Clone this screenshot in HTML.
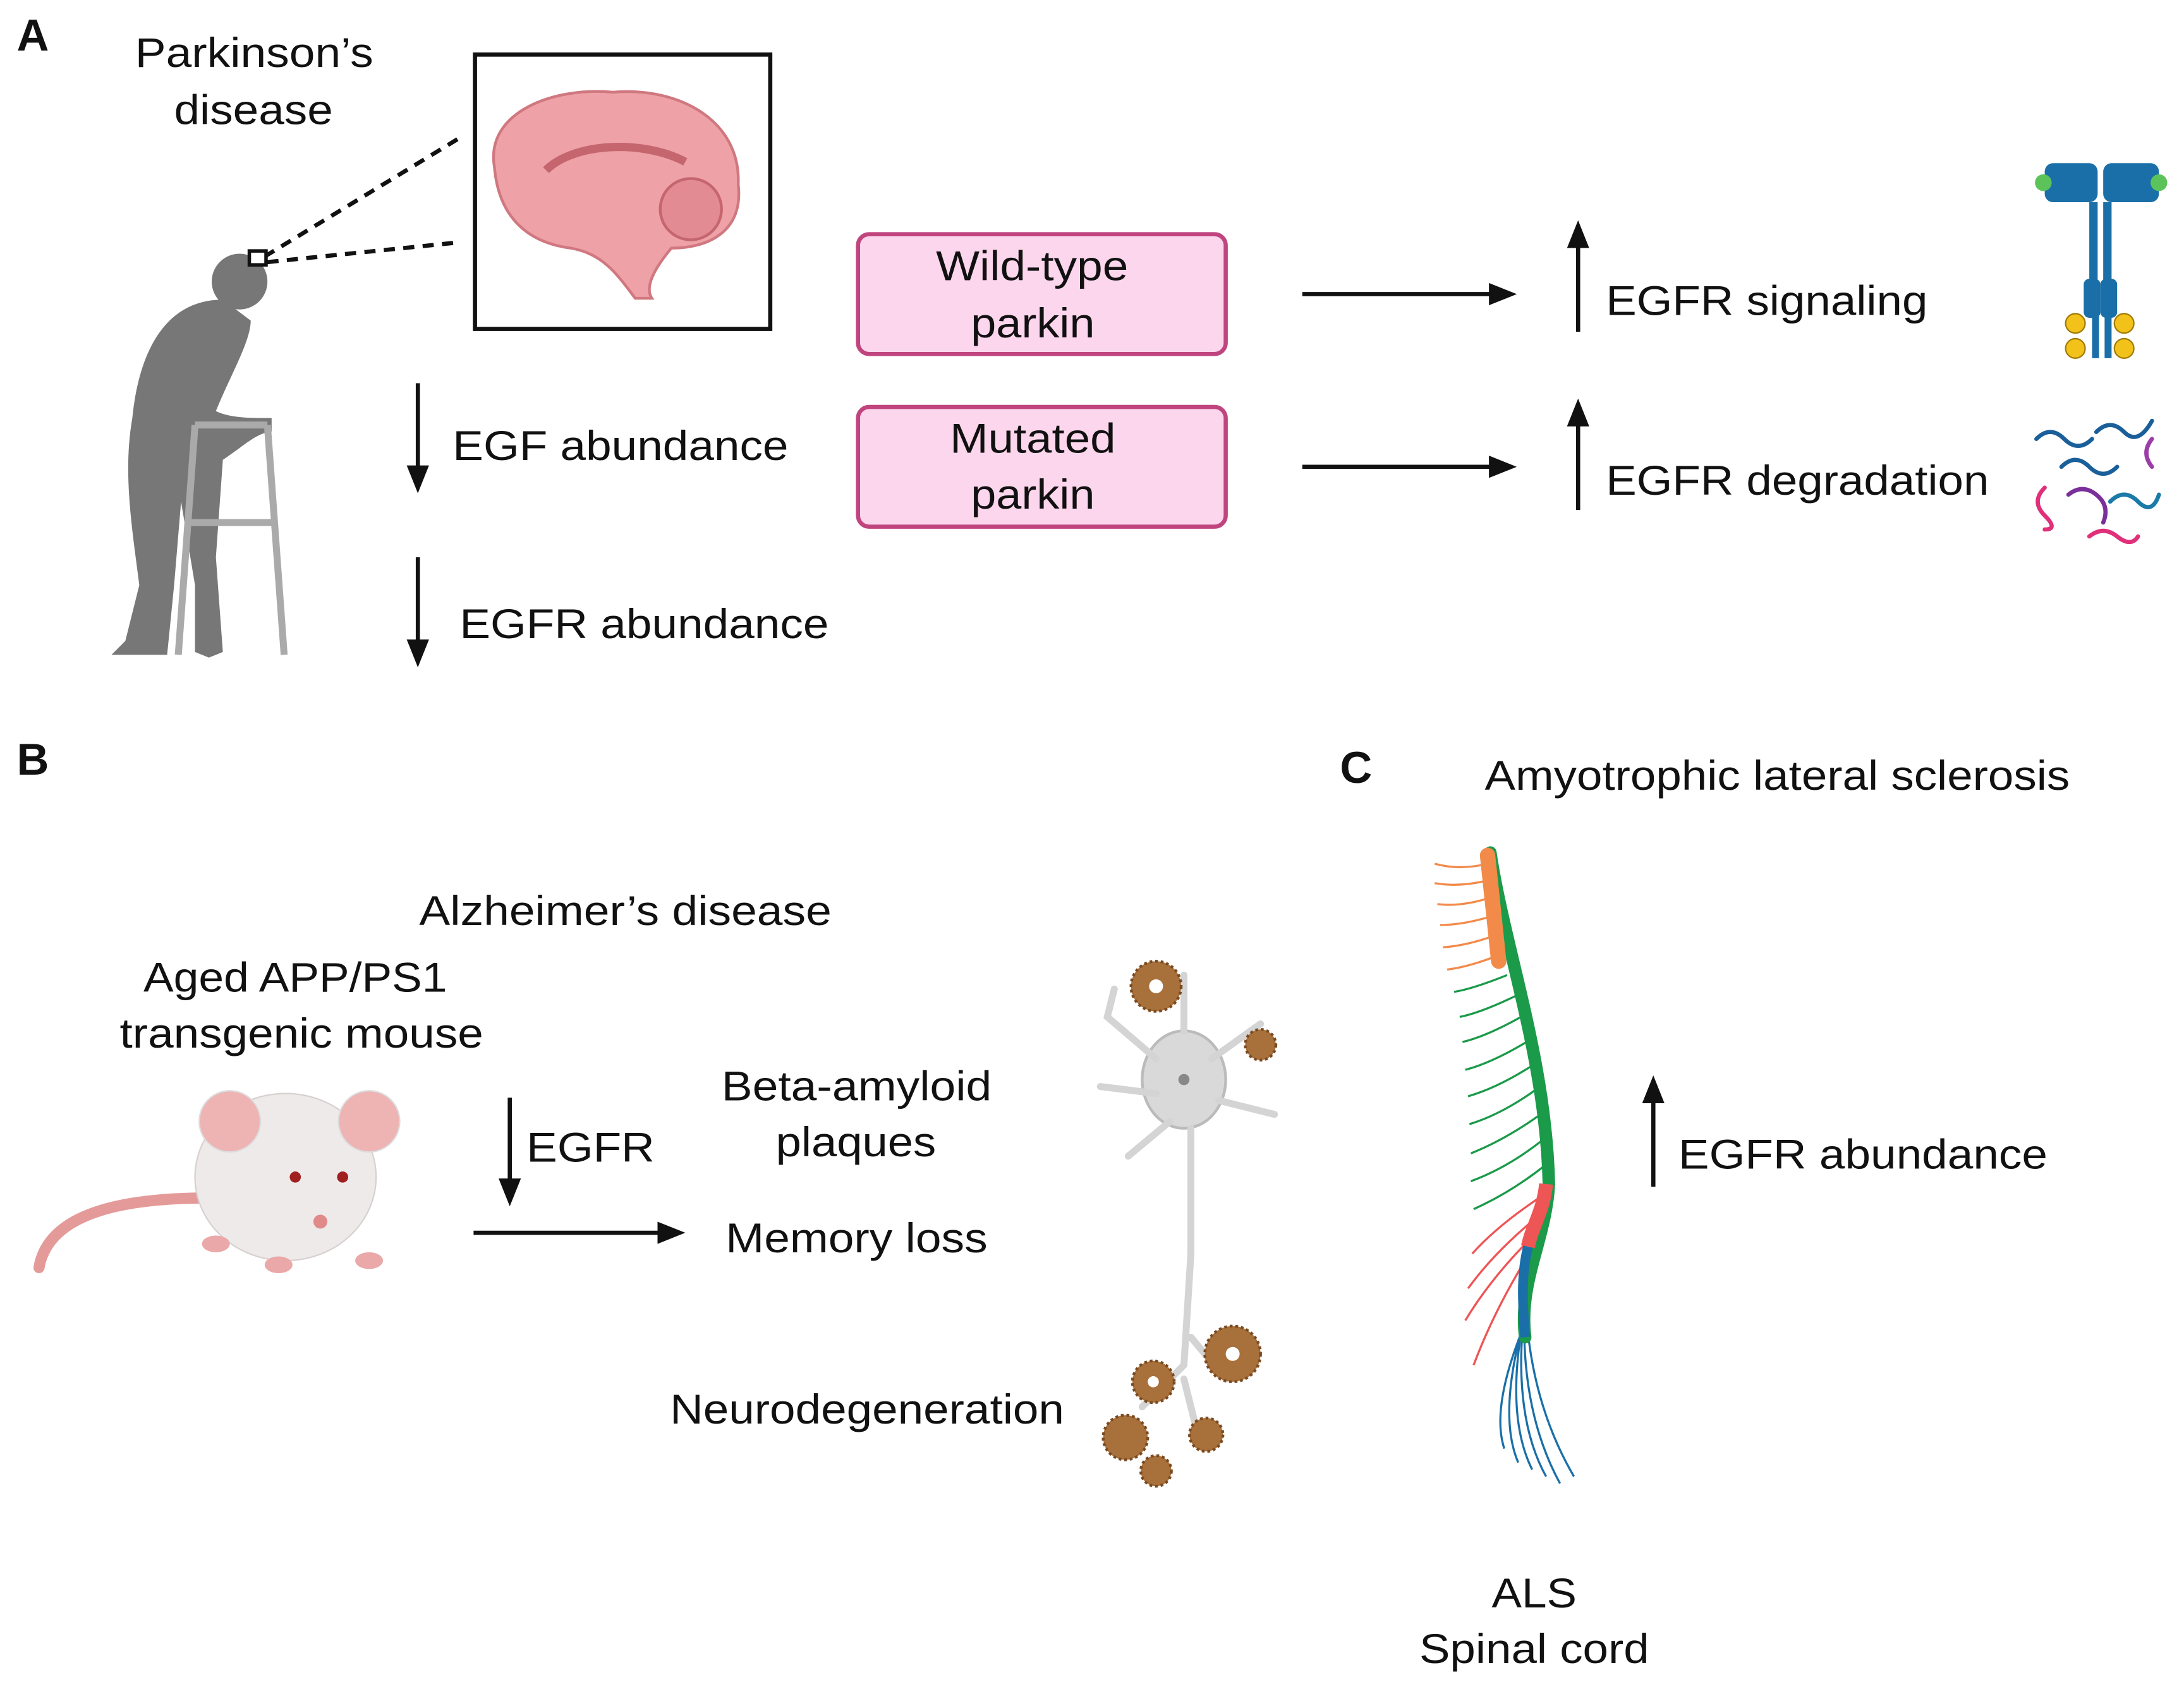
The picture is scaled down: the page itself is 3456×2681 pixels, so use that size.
<!DOCTYPE html>
<html><head><meta charset="utf-8">
<style>
html,body{margin:0;padding:0;background:#fff;}
svg{display:block;}
text{font-family:"Liberation Sans",sans-serif;fill:#111;}
</style></head>
<body>
<svg width="3456" height="2681" viewBox="0 0 1568 1216" xmlns="http://www.w3.org/2000/svg">
<defs>
<marker id="ah2" markerWidth="20" markerHeight="20" refX="16" refY="10" orient="auto" markerUnits="userSpaceOnUse" viewBox="0 0 20 20">
<path d="M0,2 L20,10 L0,18 z" fill="#111"/></marker>
</defs>

<text x="12" y="36" font-size="32" font-weight="bold">A</text>
<text x="12" y="556" font-size="32" font-weight="bold">B</text>
<text x="962" y="562" font-size="32" font-weight="bold">C</text>

<!-- Panel A -->
<text x="97" y="48" font-size="30" textLength="171" lengthAdjust="spacingAndGlyphs">Parkinson’s</text>
<text x="125" y="89" font-size="30" textLength="114" lengthAdjust="spacingAndGlyphs">disease</text>
<rect x="341" y="39" width="212" height="197" fill="#fff" stroke="#111" stroke-width="3"/>
<path d="M355,120 C348,80 398,62 440,66 C490,62 532,88 530,132 C534,165 510,178 482,178 C472,190 462,205 468,214 L456,214 C442,195 432,182 410,178 C378,174 358,155 355,120z" fill="#eea1a6" stroke="#d07880" stroke-width="2"/>
<path d="M392,122 C412,102 462,100 492,116" fill="none" stroke="#c5666f" stroke-width="6"/>
<circle cx="496" cy="150" r="22" fill="#e28b92" stroke="#c5666f" stroke-width="2"/>
<line x1="190" y1="184" x2="333" y2="97" stroke="#111" stroke-width="3" stroke-dasharray="8,6"/>
<line x1="192" y1="188" x2="328" y2="174" stroke="#111" stroke-width="3" stroke-dasharray="8,6"/>
<g fill="#777">
<ellipse cx="172" cy="202" rx="20" ry="20"/>
<path d="M160,215 C120,215 100,250 95,300 C88,340 95,380 100,420 L90,460 L80,470 L120,470 L125,420 L130,360 L140,420 L140,468 L150,472 L160,468 L155,400 L160,330 C175,320 185,310 195,310 L195,300 C180,300 165,300 155,295 C165,270 180,245 180,230z"/>
</g>
<rect x="179" y="180" width="12" height="10" fill="#fff" stroke="#111" stroke-width="2.5"/>
<g stroke="#aaa" stroke-width="5" fill="none">
<path d="M140,305 L128,470"/><path d="M192,305 L204,470"/><path d="M140,305 L192,305"/><path d="M135,375 L197,375"/>
</g>

<line x1="300" y1="275" x2="300" y2="350" stroke="#111" stroke-width="3" marker-end="url(#ah2)"/>
<text x="325" y="330" font-size="30" textLength="241" lengthAdjust="spacingAndGlyphs">EGF  abundance</text>
<line x1="300" y1="400" x2="300" y2="475" stroke="#111" stroke-width="3" marker-end="url(#ah2)"/>
<text x="330" y="458" font-size="30" textLength="265" lengthAdjust="spacingAndGlyphs">EGFR abundance</text>

<rect x="616" y="168" width="264" height="86" rx="8" fill="#fcd6ec" stroke="#c0457f" stroke-width="3"/>
<text x="672" y="201" font-size="30" textLength="138" lengthAdjust="spacingAndGlyphs">Wild-type</text>
<text x="697" y="242" font-size="30" textLength="89" lengthAdjust="spacingAndGlyphs">parkin</text>
<rect x="616" y="292" width="264" height="86" rx="8" fill="#fcd6ec" stroke="#c0457f" stroke-width="3"/>
<text x="682" y="325" font-size="30" textLength="119" lengthAdjust="spacingAndGlyphs">Mutated</text>
<text x="697" y="365" font-size="30" textLength="89" lengthAdjust="spacingAndGlyphs">parkin</text>

<line x1="935" y1="211" x2="1085" y2="211" stroke="#111" stroke-width="3" marker-end="url(#ah2)"/>
<line x1="935" y1="335" x2="1085" y2="335" stroke="#111" stroke-width="3" marker-end="url(#ah2)"/>
<line x1="1133" y1="238" x2="1133" y2="162" stroke="#111" stroke-width="3" marker-end="url(#ah2)"/>
<line x1="1133" y1="366" x2="1133" y2="290" stroke="#111" stroke-width="3" marker-end="url(#ah2)"/>
<text x="1153" y="226" font-size="30" textLength="231" lengthAdjust="spacingAndGlyphs">EGFR signaling</text>
<text x="1153" y="355" font-size="30" textLength="275" lengthAdjust="spacingAndGlyphs">EGFR degradation</text>

<g>
<rect x="1468" y="117" width="38" height="28" rx="6" fill="#1a6fa8"/>
<rect x="1510" y="117" width="40" height="28" rx="6" fill="#1a6fa8"/>
<circle cx="1467" cy="131" r="6" fill="#5cc35a"/><circle cx="1550" cy="131" r="6" fill="#5cc35a"/>
<rect x="1500" y="145" width="6" height="60" fill="#1a6fa8"/><rect x="1510" y="145" width="6" height="60" fill="#1a6fa8"/>
<rect x="1496" y="200" width="12" height="28" rx="4" fill="#1a6fa8"/><rect x="1508" y="200" width="12" height="28" rx="4" fill="#1a6fa8"/>
<rect x="1502" y="225" width="5" height="32" fill="#1a6fa8"/><rect x="1511" y="225" width="5" height="32" fill="#1a6fa8"/>
<g fill="#f2c21b" stroke="#a07a00"><circle cx="1490" cy="232" r="7"/><circle cx="1525" cy="232" r="7"/><circle cx="1490" cy="250" r="7"/><circle cx="1525" cy="250" r="7"/></g>
</g>
<g fill="none" stroke-width="3" stroke-linecap="round">
<path d="M1462,315 q10,-10 20,0 t20,0" stroke="#1a5f9a"/>
<path d="M1505,310 q10,-10 20,0 t20,-8" stroke="#1a5f9a"/>
<path d="M1480,335 q10,-10 20,0 t20,0" stroke="#1a5f9a"/>
<path d="M1545,315 q-8,10 0,20" stroke="#9b3ca8"/>
<path d="M1468,350 q-10,10 0,20 t0,10" stroke="#e0307a"/>
<path d="M1485,355 q10,-8 20,0 t5,20" stroke="#7a2f9a"/>
<path d="M1515,360 q10,-10 20,0 t15,-5" stroke="#1a7aa8"/>
<path d="M1500,385 q10,-8 20,0 t15,0" stroke="#e0307a"/>
</g>

<!-- Panel B -->
<text x="301" y="664" font-size="30" textLength="296" lengthAdjust="spacingAndGlyphs">Alzheimer’s disease</text>
<text x="103" y="712" font-size="30" textLength="218" lengthAdjust="spacingAndGlyphs">Aged APP/PS1</text>
<text x="86" y="752" font-size="30" textLength="261" lengthAdjust="spacingAndGlyphs">transgenic mouse</text>
<path d="M28,910 C35,870 90,860 150,860" fill="none" stroke="#e59a9a" stroke-width="8" stroke-linecap="round"/>
<ellipse cx="205" cy="845" rx="65" ry="60" fill="#eeeaea" stroke="#d8d0d0"/>
<circle cx="165" cy="805" r="22" fill="#eeb4b4" stroke="#ddd"/>
<circle cx="265" cy="805" r="22" fill="#eeb4b4" stroke="#ddd"/>
<circle cx="212" cy="845" r="4" fill="#a02020"/><circle cx="246" cy="845" r="4" fill="#a02020"/>
<circle cx="230" cy="877" r="5" fill="#e08a8a"/>
<g fill="#eaa8a8"><ellipse cx="155" cy="893" rx="10" ry="6"/><ellipse cx="200" cy="908" rx="10" ry="6"/><ellipse cx="265" cy="905" rx="10" ry="6"/></g>

<line x1="366" y1="788" x2="366" y2="862" stroke="#111" stroke-width="3" marker-end="url(#ah2)"/>
<text x="378" y="834" font-size="30" textLength="92" lengthAdjust="spacingAndGlyphs">EGFR</text>
<line x1="340" y1="885" x2="488" y2="885" stroke="#111" stroke-width="3" marker-end="url(#ah2)"/>
<text x="518" y="790" font-size="30" textLength="194" lengthAdjust="spacingAndGlyphs">Beta-amyloid</text>
<text x="557" y="830" font-size="30" textLength="115" lengthAdjust="spacingAndGlyphs">plaques</text>
<text x="521" y="899" font-size="30" textLength="188" lengthAdjust="spacingAndGlyphs">Memory loss</text>
<text x="481" y="1022" font-size="30" textLength="283" lengthAdjust="spacingAndGlyphs">Neurodegeneration</text>

<g fill="#d9d9d9" stroke="#bbb" stroke-width="2">
<ellipse cx="850" cy="775" rx="30" ry="35"/>
</g>
<g stroke="#d4d4d4" stroke-width="5" fill="none" stroke-linecap="round">
<path d="M830,760 L795,730 L800,710"/><path d="M830,785 L790,780"/><path d="M840,805 L810,830"/>
<path d="M870,760 L905,735"/><path d="M875,790 L915,800"/><path d="M850,740 L850,700"/>
<path d="M855,810 L855,900 L850,980 L820,1010"/><path d="M855,960 L880,990"/><path d="M850,990 L860,1030"/>
</g>
<circle cx="850" cy="775" r="4" fill="#888"/>
<g fill="#a8703a" stroke="#7a4a20" stroke-width="2" stroke-dasharray="2,2">
<circle cx="830" cy="708" r="18"/><circle cx="905" cy="750" r="11"/>
<circle cx="885" cy="972" r="20"/><circle cx="828" cy="992" r="15"/><circle cx="808" cy="1032" r="16"/><circle cx="866" cy="1030" r="12"/><circle cx="830" cy="1056" r="11"/>
</g>
<g fill="#fff"><circle cx="830" cy="708" r="5"/><circle cx="885" cy="972" r="5"/><circle cx="828" cy="992" r="4"/></g>

<!-- Panel C -->
<text x="1066" y="567" font-size="30" textLength="420" lengthAdjust="spacingAndGlyphs">Amyotrophic lateral sclerosis</text>
<g fill="none" stroke-width="1.5">
<g stroke="#f28a4a">
<path d="M1068,620 q-20,5 -38,0"/><path d="M1068,632 q-20,5 -38,2"/><path d="M1068,645 q-20,6 -36,4"/><path d="M1070,658 q-20,6 -36,6"/><path d="M1072,672 q-20,7 -36,8"/><path d="M1075,686 q-20,8 -36,10"/>
</g>
<g stroke="#1b9a4a">
<path d="M1082,700 q-25,10 -38,12"/><path d="M1088,715 q-25,12 -40,15"/><path d="M1092,730 q-25,14 -42,18"/><path d="M1096,748 q-25,15 -44,20"/><path d="M1100,765 q-25,16 -46,22"/><path d="M1103,782 q-25,18 -48,25"/><path d="M1106,800 q-25,18 -50,28"/><path d="M1108,818 q-25,20 -52,30"/><path d="M1110,836 q-25,20 -52,32"/>
</g>
<g stroke="#ee5555">
<path d="M1105,860 q-30,20 -48,40"/><path d="M1102,875 q-30,25 -48,50"/><path d="M1100,888 q-30,30 -48,60"/><path d="M1098,900 q-25,40 -40,80"/>
</g>
<g stroke="#1a6fa8">
<path d="M1095,920 q0,80 35,140"/><path d="M1095,930 q-5,80 25,135"/><path d="M1095,935 q-10,80 15,125"/><path d="M1095,940 q-15,75 5,115"/><path d="M1095,945 q-20,70 -5,105"/><path d="M1095,950 q-25,60 -15,90"/>
</g>
</g>
<path d="M1070,612 C1080,680 1110,760 1112,850 C1110,890 1090,920 1095,960" fill="none" stroke="#1b9a4a" stroke-width="9" stroke-linecap="round"/>
<path d="M1068,614 L1076,690" stroke="#f28a4a" stroke-width="11" stroke-linecap="round"/>
<path d="M1110,850 C1108,870 1100,880 1097,895" stroke="#ee5555" stroke-width="10" fill="none"/>
<path d="M1097,895 C1092,915 1093,935 1095,960" stroke="#1a6fa8" stroke-width="7" fill="none"/>

<line x1="1187" y1="852" x2="1187" y2="776" stroke="#111" stroke-width="3" marker-end="url(#ah2)"/>
<text x="1205" y="839" font-size="30" textLength="265" lengthAdjust="spacingAndGlyphs">EGFR abundance</text>
<text x="1071" y="1154" font-size="30" textLength="61" lengthAdjust="spacingAndGlyphs">ALS</text>
<text x="1019" y="1194" font-size="30" textLength="165" lengthAdjust="spacingAndGlyphs">Spinal cord</text>
</svg>
</body></html>
